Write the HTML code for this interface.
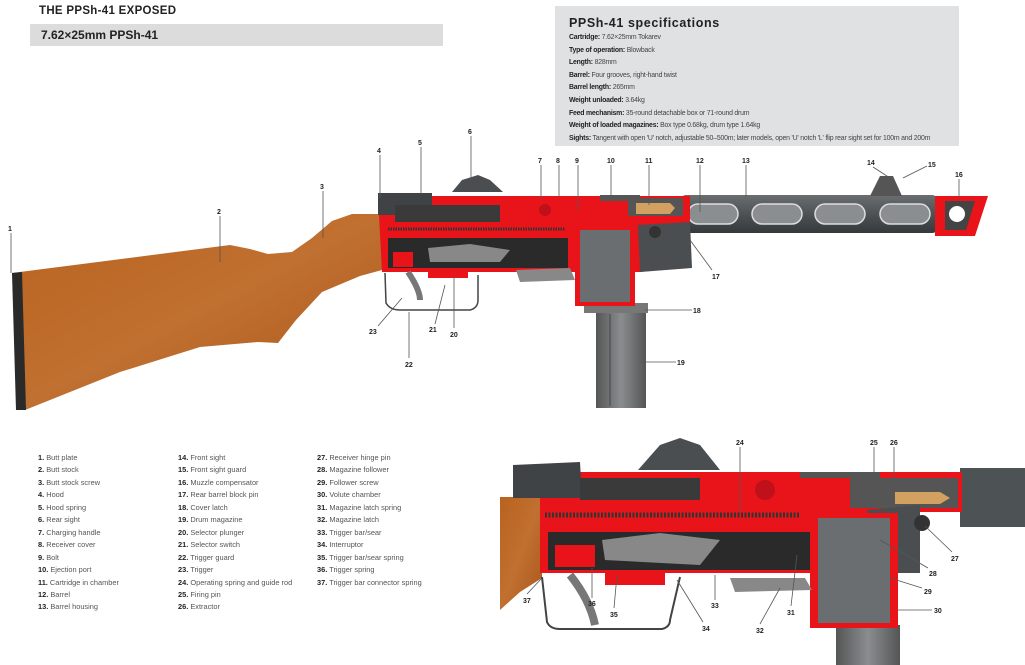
<!DOCTYPE html>
<html><head><meta charset="utf-8"><style>
body{margin:0;width:1025px;height:665px;background:#fff;overflow:hidden;font-family:"Liberation Sans",sans-serif;position:relative}
.t{position:absolute;white-space:nowrap}
.spec div{font-size:6.9px;color:#444;height:12.6px;line-height:12.6px;letter-spacing:-0.2px}
.spec b{color:#222}
.leg{position:absolute;font-size:7.4px;color:#555;line-height:12.45px}
.leg b{color:#222}
svg text{font-family:"Liberation Sans",sans-serif;font-size:7px;font-weight:bold;fill:#222}
</style></head><body>
<div class="t" style="left:39px;top:5px;font-size:11.5px;font-weight:bold;color:#222;letter-spacing:0.3px">THE PPSh-41 EXPOSED</div>
<div style="position:absolute;left:30px;top:24px;width:413px;height:22px;background:#dcdcdc"></div>
<div class="t" style="left:41px;top:28px;font-size:12px;font-weight:bold;color:#222">7.62×25mm PPSh-41</div>
<div style="position:absolute;left:555px;top:6px;width:404px;height:140px;background:#dfe1e3"></div>
<div class="t spec" style="left:569px;top:15px">
<div style="font-size:12.5px;font-weight:bold;color:#222;height:17px;line-height:17px;letter-spacing:0.6px">PPSh-41 specifications</div>
<div><b>Cartridge:</b> 7.62×25mm Tokarev</div>
<div><b>Type of operation:</b> Blowback</div>
<div><b>Length:</b> 828mm</div>
<div><b>Barrel:</b> Four grooves, right-hand twist</div>
<div><b>Barrel length:</b> 265mm</div>
<div><b>Weight unloaded:</b> 3.64kg</div>
<div><b>Feed mechanism:</b> 35-round detachable box or 71-round drum</div>
<div><b>Weight of loaded magazines:</b> Box type 0.68kg, drum type 1.64kg</div>
<div><b>Sights:</b> Tangent with open 'U' notch, adjustable 50–500m; later models, open 'U' notch 'L' flip rear sight set for 100m and 200m</div>
</div>
<div class="leg" style="left:38px;top:452px"><b>1.</b> Butt plate<br><b>2.</b> Butt stock<br><b>3.</b> Butt stock screw<br><b>4.</b> Hood<br><b>5.</b> Hood spring<br><b>6.</b> Rear sight<br><b>7.</b> Charging handle<br><b>8.</b> Receiver cover<br><b>9.</b> Bolt<br><b>10.</b> Ejection port<br><b>11.</b> Cartridge in chamber<br><b>12.</b> Barrel<br><b>13.</b> Barrel housing</div>
<div class="leg" style="left:178px;top:452px"><b>14.</b> Front sight<br><b>15.</b> Front sight guard<br><b>16.</b> Muzzle compensator<br><b>17.</b> Rear barrel block pin<br><b>18.</b> Cover latch<br><b>19.</b> Drum magazine<br><b>20.</b> Selector plunger<br><b>21.</b> Selector switch<br><b>22.</b> Trigger guard<br><b>23.</b> Trigger<br><b>24.</b> Operating spring and guide rod<br><b>25.</b> Firing pin<br><b>26.</b> Extractor</div>
<div class="leg" style="left:317px;top:452px"><b>27.</b> Receiver hinge pin<br><b>28.</b> Magazine follower<br><b>29.</b> Follower screw<br><b>30.</b> Volute chamber<br><b>31.</b> Magazine latch spring<br><b>32.</b> Magazine latch<br><b>33.</b> Trigger bar/sear<br><b>34.</b> Interruptor<br><b>35.</b> Trigger bar/sear spring<br><b>36.</b> Trigger spring<br><b>37.</b> Trigger bar connector spring</div>

<svg width="1025" height="665" style="position:absolute;left:0;top:0">
<defs>
<linearGradient id="gr" x1="0" y1="0" x2="0" y2="1"><stop offset="0" stop-color="#6a6e70"/><stop offset=".5" stop-color="#4d5254"/><stop offset="1" stop-color="#35393b"/></linearGradient>
<linearGradient id="dr" x1="0" y1="0" x2="1" y2="0"><stop offset="0" stop-color="#555"/><stop offset=".5" stop-color="#8a8d8f"/><stop offset="1" stop-color="#555"/></linearGradient>
<linearGradient id="wd" x1="0" y1="0" x2="1" y2="1"><stop offset="0" stop-color="#b9621f"/><stop offset=".5" stop-color="#c07030"/><stop offset="1" stop-color="#a9561c"/></linearGradient>
</defs>
<path d="M12,273 L230,245 L250,249 L268,254 L292,252 L312,238 L332,221 L352,214 L382,214 L382,270 L360,276 L322,292 L296,320 L278,343 L258,342 L200,347 L120,372 L25,410 Z" fill="url(#wd)"/>
<path d="M12,273 L22,272 L26,410 L16,410 Z" fill="#2a2a2a"/>
<rect x="596" y="312" width="50" height="96" fill="url(#dr)"/>
<line x1="610" y1="314" x2="610" y2="406" stroke="#444"/>
<rect x="584" y="303" width="64" height="10" fill="#777"/>
<rect x="680" y="195" width="258" height="38" rx="6" fill="url(#gr)"/>
<g fill="#8a8e90" stroke="#ddd" stroke-width="1.5">
<rect x="688" y="204" width="50" height="20" rx="10"/><rect x="752" y="204" width="50" height="20" rx="10"/><rect x="815" y="204" width="50" height="20" rx="10"/><rect x="880" y="204" width="50" height="20" rx="10"/></g>
<path d="M935,196 L988,196 L975,236 L935,236 Z" fill="#e8141a"/>
<path d="M945,201 L975,201 L966,230 L945,230 Z" fill="#444"/>
<circle cx="957" cy="214" r="8" fill="#fff"/>
<path d="M870,196 L880,176 L893,176 L902,196 Z" fill="#555"/>
<path d="M378,196 L690,196 L690,230 L680,240 L680,268 L640,272 L382,272 Z" fill="#e8141a"/>
<path d="M378,193 L432,193 L432,215 L378,215 Z" fill="#3f4345"/>
<path d="M395,205 L500,205 L500,222 L395,222 Z" fill="#3a3a3a"/>
<rect x="600" y="195" width="40" height="6" fill="#555"/>
<rect x="628" y="198" width="55" height="18" fill="#555"/>
<path d="M636,203 L670,203 L675,208 L670,214 L636,214 Z" fill="#d2a060"/>
<path d="M638,225 L690,222 L692,268 L640,272 Z" fill="#4a4e50"/>
<circle cx="655" cy="232" r="6" fill="#333"/>
<circle cx="545" cy="210" r="6" fill="#c0101a"/>
<path d="M452,192 L462,180 L478,175 L490,180 L503,192 Z" fill="#4a4e50"/>
<line x1="388" y1="229" x2="565" y2="229" stroke="#333" stroke-width="3" stroke-dasharray="1.5,1"/>
<rect x="388" y="238" width="180" height="30" fill="#2a2a2a"/>
<path d="M428,248 L470,244 L510,250 L500,262 L430,262 Z" fill="#888"/>
<rect x="393" y="252" width="20" height="15" fill="#e8141a"/>
<rect x="575" y="226" width="60" height="80" fill="#e8141a"/>
<rect x="580" y="230" width="50" height="72" fill="#6a6e70"/>
<path d="M516,270 L570,268 L575,280 L520,282 Z" fill="#888"/>
<path d="M385,273 L386,303 Q390,310 400,310 L470,310 Q478,308 478,300 L478,275" fill="none" stroke="#444" stroke-width="1.5"/>
<path d="M408,272 Q420,290 420,300" fill="none" stroke="#777" stroke-width="6"/>
<rect x="428" y="268" width="40" height="10" fill="#e8141a"/>

<path d="M500,497 L542,497 L542,578 L520,592 L500,610 Z" fill="url(#wd)"/>
<rect x="836" y="625" width="64" height="40" fill="url(#dr)"/>
<path d="M960,468 L1025,468 L1025,527 L960,527 Z" fill="#4d5254"/>
<path d="M540,472 L962,472 L962,512 L918,512 L918,573 L540,573 Z" fill="#e8141a"/>
<path d="M513,465 L580,462 L582,498 L513,498 Z" fill="#3f4345"/>
<path d="M580,478 L700,478 L700,500 L580,500 Z" fill="#3a3a3a"/>
<rect x="800" y="472" width="80" height="6" fill="#555"/>
<rect x="850" y="478" width="108" height="30" fill="#555"/>
<path d="M895,492 L940,492 L950,498 L940,504 L895,504 Z" fill="#d2a060"/>
<path d="M867,510 L920,505 L920,573 L870,573 Z" fill="#4a4e50"/>
<circle cx="922" cy="523" r="8" fill="#333"/>
<circle cx="765" cy="490" r="10" fill="#c0101a"/>
<path d="M638,470 L660,445 L680,438 L700,445 L720,470 Z" fill="#4a4e50"/>
<line x1="545" y1="515" x2="800" y2="515" stroke="#333" stroke-width="5" stroke-dasharray="2,1.5"/>
<rect x="548" y="532" width="280" height="38" fill="#2a2a2a"/>
<path d="M602,540 L660,533 L720,540 L700,565 L605,560 Z" fill="#888"/>
<rect x="555" y="545" width="40" height="22" fill="#e8141a"/>
<rect x="810" y="513" width="88" height="115" fill="#e8141a"/>
<rect x="818" y="518" width="72" height="105" fill="#6a6e70"/>
<path d="M730,578 L805,578 L812,590 L735,592 Z" fill="#888"/>
<path d="M542,577 L547,622 Q550,629 560,629 L662,629 Q670,627 670,620 L680,577" fill="none" stroke="#444" stroke-width="2"/>
<path d="M570,575 Q590,600 595,625" fill="none" stroke="#777" stroke-width="8"/>
<rect x="605" y="573" width="60" height="12" fill="#e8141a"/>

<g stroke="#555" stroke-width="0.8">
<line x1="11" y1="233" x2="11" y2="273"/><line x1="220" y1="216" x2="220" y2="262"/><line x1="323" y1="191" x2="323" y2="238"/>
<line x1="380" y1="155" x2="380" y2="198"/><line x1="421" y1="147" x2="421" y2="194"/><line x1="471" y1="136" x2="471" y2="180"/>
<line x1="541" y1="165" x2="541" y2="200"/><line x1="559" y1="165" x2="559" y2="197"/><line x1="578" y1="165" x2="578" y2="210"/>
<line x1="611" y1="165" x2="611" y2="197"/><line x1="649" y1="165" x2="649" y2="205"/><line x1="700" y1="165" x2="700" y2="212"/>
<line x1="746" y1="165" x2="746" y2="197"/><line x1="873" y1="167" x2="890" y2="178"/><line x1="927" y1="166" x2="903" y2="178"/>
<line x1="959" y1="179" x2="959" y2="198"/><line x1="712" y1="270" x2="690" y2="240"/><line x1="692" y1="310" x2="645" y2="310"/>
<line x1="676" y1="362" x2="640" y2="362"/><line x1="454" y1="328" x2="454" y2="275"/><line x1="435" y1="324" x2="445" y2="285"/>
<line x1="409" y1="358" x2="409" y2="312"/><line x1="378" y1="326" x2="402" y2="298"/>
<line x1="740" y1="447" x2="740" y2="512"/><line x1="874" y1="447" x2="874" y2="498"/><line x1="894" y1="447" x2="894" y2="490"/>
<line x1="952" y1="552" x2="925" y2="526"/><line x1="928" y1="568" x2="880" y2="540"/><line x1="922" y1="588" x2="890" y2="578"/>
<line x1="932" y1="610" x2="898" y2="610"/><line x1="791" y1="606" x2="797" y2="555"/><line x1="760" y1="624" x2="780" y2="588"/>
<line x1="715" y1="600" x2="715" y2="575"/><line x1="703" y1="622" x2="677" y2="580"/><line x1="614" y1="608" x2="617" y2="575"/>
<line x1="592" y1="598" x2="592" y2="568"/><line x1="527" y1="594" x2="542" y2="578"/>
</g>
<text x="8" y="231">1</text><text x="217" y="214">2</text><text x="320" y="189">3</text><text x="377" y="153">4</text><text x="418" y="145">5</text><text x="468" y="134">6</text>
<text x="538" y="163">7</text><text x="556" y="163">8</text><text x="575" y="163">9</text><text x="607" y="163">10</text><text x="645" y="163">11</text><text x="696" y="163">12</text><text x="742" y="163">13</text>
<text x="867" y="165">14</text><text x="928" y="167">15</text><text x="955" y="177">16</text><text x="712" y="279">17</text><text x="693" y="313">18</text><text x="677" y="365">19</text>
<text x="450" y="337">20</text><text x="429" y="332">21</text><text x="405" y="367">22</text><text x="369" y="334">23</text>
<text x="736" y="445">24</text><text x="870" y="445">25</text><text x="890" y="445">26</text><text x="951" y="561">27</text><text x="929" y="576">28</text><text x="924" y="594">29</text><text x="934" y="613">30</text>
<text x="787" y="615">31</text><text x="756" y="633">32</text><text x="711" y="608">33</text><text x="702" y="631">34</text><text x="610" y="617">35</text><text x="588" y="606">36</text><text x="523" y="603">37</text>
</svg>
</body></html>
